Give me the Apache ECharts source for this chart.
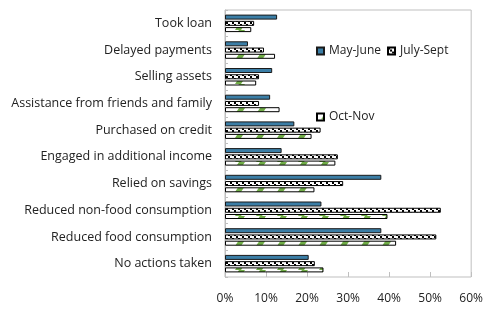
<!DOCTYPE html>
<html>
<head>
<meta charset="utf-8">
<script src="https://cdn.jsdelivr.net/npm/echarts@6/dist/echarts.min.js"></script>
<style>
    html, body { margin: 0; padding: 0; background: #fff; }
    #chart { width: 486px; height: 310px; }
</style>
</head>
<body>
<div id="chart"></div>
<script>
    var categories = ['Took loan', 'Delayed payments', 'Selling assets', 'Assistance from friends and family',
        'Purchased on credit', 'Engaged in additional income', 'Relied on savings',
        'Reduced non-food consumption', 'Reduced food consumption', 'No actions taken']
    var mayJune = [12.7, 5.6, 11.5, 11.0, 16.9, 13.8, 38.1, 23.5, 38.1, 20.4]
    var julySept = [7.1, 9.5, 8.3, 8.3, 23.3, 27.5, 28.8, 52.6, 51.5, 21.9]
    var octNov = [6.4, 12.2, 7.6, 13.3, 21.1, 26.9, 21.8, 39.6, 41.7, 24.0]
    var xTicks = [0, 10, 20, 30, 40, 50, 60]

    // hatch for July-Sept: small black diagonal marks on white
    function hatchPattern () {
        var c = document.createElement('canvas')
        c.width = 6
        c.height = 6
        var ctx = c.getContext('2d')
        ctx.fillStyle = '#fff'
        ctx.fillRect(0, 0, 6, 6)
        ctx.fillStyle = '#000'
        ctx.fillRect(0, 0, 2, 2)
        ctx.fillRect(2, 2, 2, 2)
        ctx.fillRect(4, 4, 2, 2)
        return c
    }
    // green slanted dashes for Oct-Nov
    function stripePattern () {
        var c = document.createElement('canvas')
        c.width = 21
        c.height = 6
        var ctx = c.getContext('2d')
        ctx.fillStyle = '#fff'
        ctx.fillRect(0, 0, 21, 6)
        ctx.fillStyle = '#70ad47'
        ctx.beginPath()
        ctx.moveTo(4, 6)
        ctx.lineTo(10, 6)
        ctx.lineTo(14, 0)
        ctx.lineTo(8, 0)
        ctx.closePath()
        ctx.fill()
        return c
    }

    var font = 'Open Sans'
    var option = {
        animation: false,
        textStyle: { fontFamily: font },
        grid: {
            left: 225, right: 14, top: 10, bottom: 33,
            show: true, borderColor: '#bfbfbf', borderWidth: 1
        },
        legend: [{
            left: 311, top: 40,
            icon: 'rect',
            itemWidth: 7, itemHeight: 7, itemGap: 6,
            textStyle: { fontSize: 12, color: '#222', fontFamily: font },
            data: ['May-June', 'July-Sept']
        }, {
            left: 311, top: 106,
            icon: 'rect',
            itemWidth: 7, itemHeight: 7,
            textStyle: { fontSize: 12, color: '#222', fontFamily: font },
            data: ['Oct-Nov']
        }],
        xAxis: {
            type: 'value',
            min: 0, max: 60, interval: 10,
            axisLine: { show: false },
            axisTick: { show: true, inside: true, length: 5, lineStyle: { color: '#bfbfbf' } },
            splitLine: { show: false },
            axisLabel: {
                color: '#222', fontSize: 12, margin: 16,
                formatter: function (v) { return xTicks.indexOf(v) >= 0 ? v + '%' : '' }
            }
        },
        yAxis: {
            type: 'category',
            inverse: true,
            data: categories,
            axisLine: { show: true, lineStyle: { color: '#bfbfbf' } },
            axisTick: { show: true, inside: true, length: 3, lineStyle: { color: '#bfbfbf' } },
            axisLabel: { color: '#222', fontSize: 12.5, margin: 13 }
        },
        series: [{
            name: 'May-June',
            type: 'bar',
            data: mayJune,
            barWidth: 5,
            barGap: '25%',
            itemStyle: { color: '#3b7ea6', borderColor: '#1a1a1a', borderWidth: 1 }
        }, {
            name: 'July-Sept',
            type: 'bar',
            data: julySept,
            barWidth: 5,
            itemStyle: { color: { image: hatchPattern(), repeat: 'repeat' }, borderColor: '#000', borderWidth: 1 }
        }, {
            name: 'Oct-Nov',
            type: 'bar',
            data: octNov,
            barWidth: 5,
            itemStyle: { color: { image: stripePattern(), repeat: 'repeat' }, borderColor: '#000', borderWidth: 1 }
        }]
    }
    var myChart = echarts.init(document.getElementById('chart'))
    myChart.setOption(option)
</script>
</body>
</html>
